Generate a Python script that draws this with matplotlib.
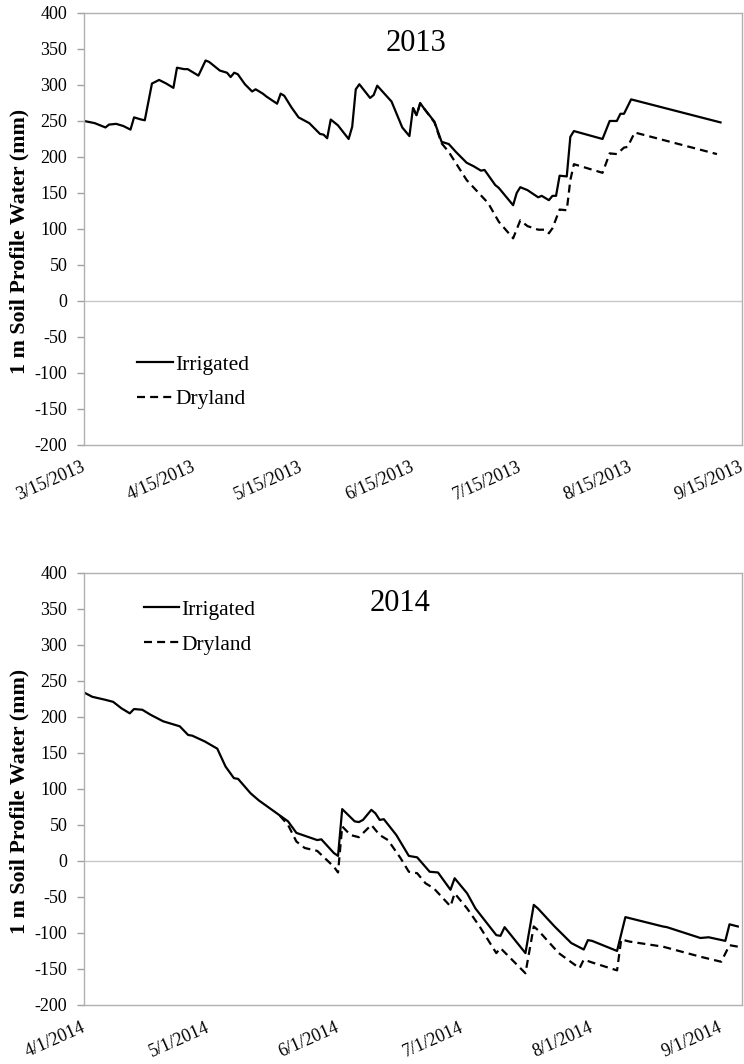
import matplotlib
matplotlib.use('Agg')
import matplotlib.pyplot as plt
import matplotlib.ticker as mticker
import matplotlib.dates as mdates
import numpy as np

plt.rcParams['font.family'] = ['Liberation Serif', 'DejaVu Serif']
plt.rcParams['axes.unicode_minus'] = False

# 2013 season, days after 3/15/2013, soil water in mm
irr13_day = [0, 3, 6, 7, 9, 11, 13, 14, 16, 17, 19, 21, 23, 25, 26, 28, 29, 32, 34, 35,
             38, 40, 41, 42, 43, 45, 47, 48, 50, 51, 54, 55, 56, 58, 60, 63, 66, 67, 68, 69,
             71, 74, 75, 76, 77, 80, 81, 82, 86, 89, 91, 92, 93, 94, 95, 98, 100, 102, 104, 107,
             109, 111, 112, 115, 116, 120, 121, 122, 124, 127, 128, 130, 131, 132, 133, 135, 136, 137, 145, 147,
             149, 150, 151, 153, 178]
irr13_mm = [250, 247, 241, 245, 246, 243, 238, 255, 252, 251, 302, 307, 302, 296, 324, 322, 322, 313, 334, 332,
            320, 317, 311, 317, 315, 301, 291, 294, 288, 284, 274, 288, 285, 269, 255, 247, 232, 231, 226, 252,
            244, 225, 242, 294, 301, 282, 286, 299, 277, 241, 229, 268, 258, 275, 268, 249, 221, 218, 207, 192,
            187, 181, 182, 161, 157, 133, 150, 158, 154, 144, 146, 140, 146, 146, 174, 173, 228, 236, 225, 250,
            250, 260, 260, 280, 248]
dry13_day = [92, 93, 94, 95, 98, 100, 102, 107, 113, 116, 120, 122, 124, 127, 129, 130, 131, 133, 135, 136,
             137, 145, 147, 149, 151, 152, 154, 177]
dry13_mm = [268, 258, 274, 268, 248, 219, 207, 168, 136, 110, 87, 112, 104, 99, 99, 94, 101, 127, 126, 168,
            190, 178, 205, 204, 213, 214, 234, 204]

# 2014 season, days after 4/1/2014
irr14_day = [0, 2, 5, 7, 9, 11, 12, 14, 16, 19, 23, 25, 26, 29, 32, 34, 36, 37, 40, 42,
             49, 51, 52, 56, 57, 60, 61, 62, 65, 66, 67, 69, 70, 71, 72, 75, 78, 80, 83, 85,
             88, 89, 92, 94, 99, 100, 101, 106, 108, 109, 113, 117, 120, 121, 122, 128, 130, 139, 140, 148,
             150, 154, 155, 157]
irr14_mm = [234, 228, 224, 221, 212, 205, 211, 210, 203, 194, 187, 175, 174, 166, 156, 131, 115, 114, 94, 84,
            55, 39, 37, 29, 30, 11, 7, 72, 55, 54, 57, 71, 66, 57, 58, 36, 7, 5, -15, -16,
            -40, -24, -45, -66, -103, -104, -92, -128, -61, -66, -91, -114, -123, -110, -111, -125, -78, -91, -92, -107,
            -106, -111, -88, -91]
dry14_day = [47, 49, 51, 53, 56, 60, 61, 62, 64, 66, 69, 71, 73, 76, 78, 80, 82, 84, 88, 89,
             92, 95, 99, 100, 106, 108, 109, 114, 119, 120, 122, 128, 129, 131, 139, 148, 153, 155, 157]
dry14_mm = [63, 50, 27, 18, 14, -8, -16, 48, 36, 33, 50, 36, 29, 4, -15, -17, -31, -38, -63, -45,
            -66, -91, -128, -121, -156, -91, -96, -128, -149, -137, -141, -152, -109, -112, -119, -133, -140, -117, -119]

yticks = list(range(-200, 401, 50))


def to_dates(start, days):
    return np.datetime64(start) + np.array(days).astype('timedelta64[D]')


def fmt_date(x, pos):
    d = mdates.num2date(x)
    return f"{d.month}/{d.day}/{d.year}"


def draw_panel(ax, start, end, irr_day, irr_mm, dry_day, dry_mm, tick_day, year, year_xy, leg_xy):
    ax.plot(to_dates(start, dry_day), dry_mm, color='black', lw=1.6, dashes=(3.6, 2.3), label='Dryland')
    ax.plot(to_dates(start, irr_day), irr_mm, color='black', lw=1.6, label='Irrigated')
    ax.axhline(0, color='#c8c8c8', lw=1, zorder=0)

    ax.set_xlim(np.datetime64(start), np.datetime64(end))
    ax.set_ylim(-200, 400)
    ax.set_yticks(yticks)
    ax.xaxis.set_major_locator(mdates.MonthLocator(bymonthday=tick_day))
    ax.xaxis.set_major_formatter(mticker.FuncFormatter(fmt_date))
    ax.tick_params(axis='x', length=0, pad=15.5, labelsize=13, labelrotation=24)
    ax.tick_params(axis='y', length=5, width=1, color='#a0a0a0', pad=7, labelsize=13)
    for sp in ax.spines.values():
        sp.set_color('#b0b0b0')
        sp.set_linewidth(1)

    ax.set_ylabel('1 m Soil Profile Water (mm)', fontsize=15.8, fontweight='bold')
    ax.yaxis.set_label_coords(-0.083, 0.472)
    ax.text(year_xy[0], year_xy[1], year, transform=ax.transAxes, fontsize=22, ha='center', va='center')

    handles, labels = ax.get_legend_handles_labels()
    ax.legend(handles[::-1], labels[::-1], loc='upper left', bbox_to_anchor=leg_xy, frameon=False,
              fontsize=15.5, handlelength=1.65, handletextpad=0.1, labelspacing=0.68,
              borderpad=0, borderaxespad=0)


fig = plt.figure(figsize=(7.44, 10.64), dpi=100)
ax1 = fig.add_axes([0.1129, 0.5818, 0.8844, 0.4060])
ax2 = fig.add_axes([0.1129, 0.0555, 0.8844, 0.4060])

draw_panel(ax1, '2013-03-15', '2013-09-15', irr13_day, irr13_mm, dry13_day, dry13_mm, 15,
           '2013', (0.505, 0.93), (0.081, 0.209))
draw_panel(ax2, '2014-04-01', '2014-09-06', irr14_day, irr14_mm, dry14_day, dry14_mm, 1,
           '2014', (0.48, 0.93), (0.091, 0.938))

# rotated date labels end at their tick
fig.canvas.draw()
for ax in (ax1, ax2):
    plt.setp(ax.get_xticklabels(), ha='right', va='center', rotation_mode='anchor')

fig.savefig('out.png', dpi=100)
